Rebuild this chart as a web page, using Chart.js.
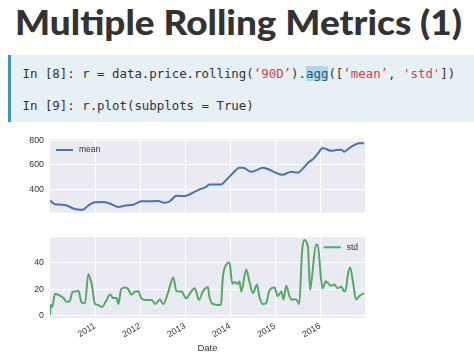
<!DOCTYPE html>
<html><head><meta charset="utf-8">
<script src="https://cdn.jsdelivr.net/npm/chart.js@4/dist/chart.umd.min.js"></script>
<style>
html,body{margin:0;padding:0;background:#fff;width:474px;height:356px;overflow:hidden;position:relative;}
#title{position:absolute;left:15px;top:4px;font-family:Lato;font-weight:900;font-size:35px;line-height:35px;color:#333;white-space:nowrap;transform-origin:0 0;}
#code{position:absolute;left:8px;top:55px;width:466px;height:67px;background:#e7f0f5;border-left:3px solid #3b98b9;box-sizing:border-box;}
.ln{position:absolute;left:11.5px;font-family:'DejaVu Sans Mono';font-size:12.4px;color:#333;white-space:pre;line-height:16px;}
.s{color:#d0454c}
.h{background:#b1d6e7;color:#215f7c}
canvas{position:absolute;left:0}
</style></head>
<body>
<div id="title">Multiple Rolling Metrics (1)</div>
<div id="code">
<div class="ln" style="top:11px">In [8]: r = data.price.rolling(<span class="s">‘90D’</span>).<span class="h">agg</span>([<span class="s">‘mean’</span>, <span class="s">'std'</span>])</div>
<div class="ln" style="top:43px">In [9]: r.plot(subplots = True)</div>
</div>
<canvas id="c1" width="380" height="96" style="top:128px"></canvas>
<canvas id="c2" width="380" height="130" style="top:226px"></canvas>
<script>
const yearTicks = [2011, 2012, 2013, 2014, 2015, 2016];
const meanTicks = [400, 600, 800];
const stdTicks = [0, 20, 40];
const xRange = [2010.0, 2017.0];
const meanRange = [208, 810];
const stdRange = [-1.5, 58.9];

const meanYears = [2010.00,2010.11,2010.26,2010.37,2010.52,2010.67,2010.74,2010.85,2011.00,2011.18,2011.33,2011.52,2011.67,2011.85,2012.03,2012.18,2012.40,2012.55,2012.66,2012.81,2013.00,2013.22,2013.37,2013.47,2013.54,2013.80,2013.91,2014.06,2014.21,2014.29,2014.47,2014.58,2014.73,2014.84,2014.95,2015.10,2015.17,2015.36,2015.51,2015.62,2015.73,2015.84,2015.95,2016.06,2016.13,2016.25,2016.36,2016.47,2016.54,2016.65,2016.79,2016.87,2016.98];
const meanValues = [308,278,274,267,243,232,234,267,294,296,283,255,267,274,301,301,305,290,301,347,345,381,405,420,439,439,474,531,577,577,543,555,577,566,547,524,520,543,536,570,616,646,692,738,731,715,722,724,708,738,768,778,778];

const stdYears = [2010.00,2010.02,2010.05,2010.11,2010.22,2010.30,2010.37,2010.44,2010.50,2010.56,2010.63,2010.70,2010.78,2010.85,2010.92,2011.00,2011.07,2011.15,2011.26,2011.33,2011.41,2011.48,2011.52,2011.58,2011.67,2011.74,2011.81,2011.89,2011.96,2012.03,2012.14,2012.26,2012.34,2012.44,2012.52,2012.63,2012.74,2012.81,2012.92,2013.03,2013.11,2013.22,2013.31,2013.40,2013.51,2013.54,2013.62,2013.77,2013.80,2013.84,2013.91,2013.99,2014.05,2014.10,2014.17,2014.21,2014.25,2014.36,2014.43,2014.51,2014.60,2014.65,2014.73,2014.80,2014.88,2014.99,2015.06,2015.14,2015.19,2015.25,2015.32,2015.36,2015.47,2015.54,2015.60,2015.65,2015.73,2015.78,2015.82,2015.91,2015.95,2016.02,2016.06,2016.13,2016.25,2016.32,2016.39,2016.47,2016.54,2016.58,2016.62,2016.67,2016.73,2016.80,2016.87,2016.98];
const stdValues = [0.8,8.3,6.7,16.7,15.3,13.4,10.6,11.3,17.9,18.3,19,10.2,9.5,31.2,25,9,8.3,6.7,12,16,13.4,13.4,9,20,21.4,20,16,18.3,18.6,13.2,12,12,9,12.4,9,18.3,28.8,18.6,18.3,13.2,17,20.7,12,18.6,21.5,14.8,9,8.3,8.8,28.8,38.2,40,24.2,25.5,24,26,18.3,34.7,26,17.2,23.6,14.8,9,9.5,19.5,21.4,14.8,18.3,12.4,22.6,15,12.4,12.4,9,47.5,56.8,52.2,19.5,28.8,53.3,53.3,28.8,20.7,26,22.6,23.6,20.7,22,18.3,20.7,31.2,36.3,26,12.4,14.8,17.2];

const TXT = '#333333';
const FONT = 'Liberation Sans';

const bgPlugin = {
  id: 'bg',
  beforeDraw(c) {
    const a = c.chartArea, ctx = c.ctx;
    ctx.save();
    ctx.fillStyle = '#EAEAF2';
    ctx.fillRect(a.left, a.top, a.right - a.left, a.bottom - a.top);
    ctx.restore();
  }
};
const inLegend = {
  id: 'inlegend',
  afterDatasetsDraw(c, args, opts) {
    const a = c.chartArea, ctx = c.ctx, ds = c.data.datasets[0];
    ctx.save();
    ctx.font = '8.5px "' + FONT + '"';
    const tw = ctx.measureText(ds.label).width;
    const y = a.top + opts.dy;
    const x0 = opts.align === 'left' ? a.left + opts.dx : a.right - opts.dx - tw - 23;
    ctx.strokeStyle = ds.borderColor; ctx.lineWidth = ds.borderWidth;
    ctx.beginPath(); ctx.moveTo(x0, y); ctx.lineTo(x0 + 17, y); ctx.stroke();
    ctx.fillStyle = TXT; ctx.textBaseline = 'middle'; ctx.textAlign = 'left';
    ctx.fillText(ds.label, x0 + 23, y);
    ctx.restore();
  }
};

function makeChart(id, label, xs, ys, color, yRange, yTicks, bottom, legendOpts, padding) {
  return new Chart(document.getElementById(id), {
    type: 'line',
    data: { datasets: [{
      label, data: xs.map((x, i) => ({ x, y: ys[i] })),
      borderColor: color, borderWidth: 2, pointRadius: 0,
      cubicInterpolationMode: 'monotone', fill: false
    }]},
    plugins: [bgPlugin, inLegend],
    options: {
      responsive: false, animation: false, events: [],
      layout: { padding },
      plugins: { legend: { display: false }, tooltip: { enabled: false }, inlegend: legendOpts },
      scales: {
        x: {
          type: 'linear', min: xRange[0], max: xRange[1],
          afterBuildTicks: s => { s.ticks = yearTicks.map(v => ({ value: v })); },
          afterFit: s => { s.height = bottom ? 38 : 0; },
          grid: { color: '#ffffff', lineWidth: 1, drawTicks: false },
          border: { display: false },
          ticks: { display: bottom, minRotation: 30, maxRotation: 30, padding: 3, autoSkip: false,
                   color: TXT, font: { family: FONT, size: 8.8 }, callback: v => String(v) },
          title: { display: bottom, text: 'Date', color: TXT, font: { family: FONT, size: 9.5 }, padding: { top: 0, bottom: 2 } }
        },
        y: {
          type: 'linear', min: yRange[0], max: yRange[1],
          afterBuildTicks: s => { s.ticks = yTicks.map(v => ({ value: v })); },
          afterFit: s => { s.width = 50; },
          grid: { color: '#ffffff', lineWidth: 1, drawTicks: false },
          border: { display: false },
          ticks: { padding: 6, color: TXT, font: { family: FONT, size: 8.8 }, callback: v => String(v) }
        }
      }
    }
  });
}

makeChart('c1', 'mean', meanYears, meanValues, '#4C72B0', meanRange, meanTicks, false,
  { align: 'left', dx: 6, dy: 10.7 }, { top: 7, right: 15, bottom: 2, left: 0 });
makeChart('c2', 'std', stdYears, stdValues, '#55A868', stdRange, stdTicks, true,
  { align: 'right', dx: 7, dy: 10 }, { top: 6, right: 15, bottom: 0, left: 0 });

const t = document.getElementById('title');
const w = t.getBoundingClientRect().width;
t.style.transform = 'scaleX(' + (447 / w) + ')';
</script>
</body></html>
